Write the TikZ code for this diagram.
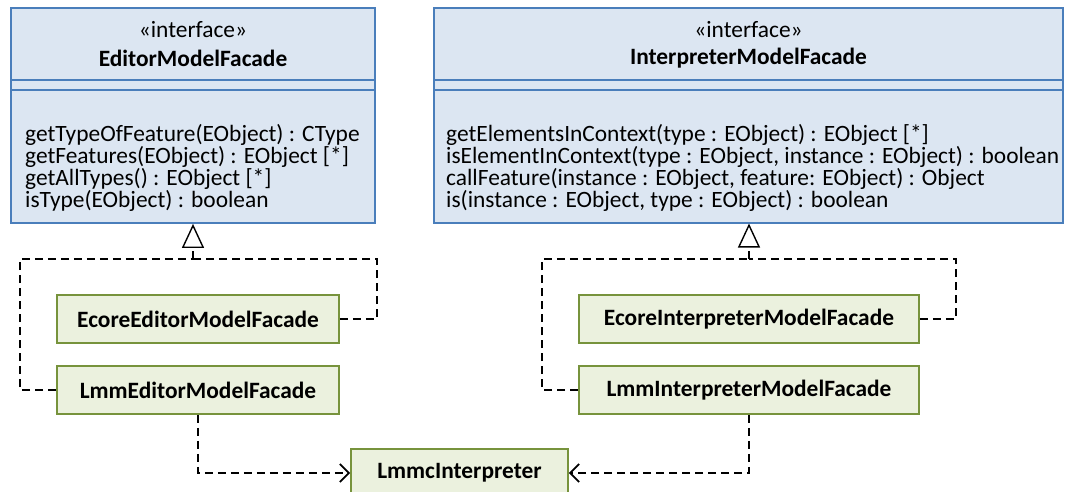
\documentclass[tikz,border=0pt]{standalone}
\usepackage{fontspec}
\setmainfont{Carlito}
\usetikzlibrary{arrows.meta,calc}
\definecolor{ifill}{HTML}{DCE6F2}
\definecolor{idraw}{HTML}{4A7EBB}
\definecolor{cfill}{HTML}{EBF1DE}
\definecolor{cdraw}{HTML}{77933C}
\tikzset{
  iface/.style={draw=idraw, fill=ifill, line width=1.8pt, rectangle, inner sep=0pt},
  cls/.style={draw=cdraw, fill=cfill, line width=1.8pt, rectangle, inner sep=0pt,
    minimum height=48pt, font=\fontsize{23.4}{22}\selectfont\bfseries},
  hdr/.style={inner sep=0pt, font=\fontsize{23.4}{22}\selectfont},
  meth/.style={inner sep=0pt, anchor=base west, font=\fontsize{23.4}{22}\selectfont},
  conn/.style={draw=black, line width=1.8pt, dash pattern=on 8pt off 5pt},
  real/.style={conn, -{Triangle[open, length=24pt, width=22pt, line width=1.4pt, fill=white]}},
  dep/.style={conn, -{Straight Barb[length=9pt, width=18pt, line width=1.8pt]}},
}
\begin{document}
\begin{tikzpicture}[x=1pt,y=-1pt]
\useasboundingbox (0,0) rectangle (1072,492);
% interface boxes
\node[iface, minimum width=364pt, minimum height=215pt] (ed) at (193,115.5) {};
\draw[idraw, line width=1.4pt] (11,80) -- (375,80) (11,90) -- (375,90);
\node[hdr] (edst) at (193,30) {«interface»};
\node[hdr, font=\fontsize{23.4}{22}\selectfont\bfseries] (edname) at (193,58) {EditorModelFacade};
\node[meth] (edm1) at (25,141.5) {getTypeOfFeature(EObject) : CType};
\node[meth] (edm2) at (25,163.5) {getFeatures(EObject) : EObject [*]};
\node[meth] (edm3) at (25,185.5) {getAllTypes() : EObject [*]};
\node[meth] (edm4) at (25,207.5) {isType(EObject) : boolean};

\node[iface, minimum width=629pt, minimum height=215pt] (in) at (748.5,115.5) {};
\draw[idraw, line width=1.4pt] (434,80) -- (1063,80) (434,90) -- (1063,90);
\node[hdr] (inst) at (748.5,30) {«interface»};
\node[hdr, font=\fontsize{23.4}{22}\selectfont\bfseries] (inname) at (748.5,58) {InterpreterModelFacade};
\node[meth] (inm1) at (446,141.5) {getElementsInContext(type : EObject) : EObject [*]};
\node[meth] (inm2) at (446,163.5) {isElementInContext(type : EObject, instance : EObject) : boolean};
\node[meth] (inm3) at (446,185.5) {callFeature(instance : EObject, feature: EObject) : Object};
\node[meth] (inm4) at (446,207.5) {is(instance : EObject, type : EObject) : boolean};

% classes
\node[cls, minimum width=282pt] (ee) at (198,319) {EcoreEditorModelFacade};
\node[cls, minimum width=282pt] (le) at (198,390) {LmmEditorModelFacade};
\node[cls, minimum width=340pt] (ei) at (749,319) {EcoreInterpreterModelFacade};
\node[cls, minimum width=340pt] (li) at (749,390) {LmmInterpreterModelFacade};
\node[cls, minimum width=217pt] (lc) at (459.5,473) {LmmcInterpreter};

% realization connectors
\coordinate (jE) at (193,259);
\coordinate (rE) at (377,259);
\coordinate (lE) at (20,259);
\draw[conn] (ee.east) -| (rE) -- (jE);
\draw[conn] (le.west) -| (lE) -- (jE);
\draw[real] (jE) -- (ed.south);

\coordinate (jI) at (749,259);
\coordinate (rI) at (956,259);
\coordinate (lI) at (542,259);
\draw[conn] (ei.east) -| (rI) -- (jI);
\draw[conn] (li.west) -| (lI) -- (jI);
\draw[real] (jI) -- (749,223.5) coordinate (inb);

% dependencies
\draw[dep] (le.south) |- (lc.west);
\draw[dep] (li.south) |- (lc.east);
\end{tikzpicture}
\end{document}
